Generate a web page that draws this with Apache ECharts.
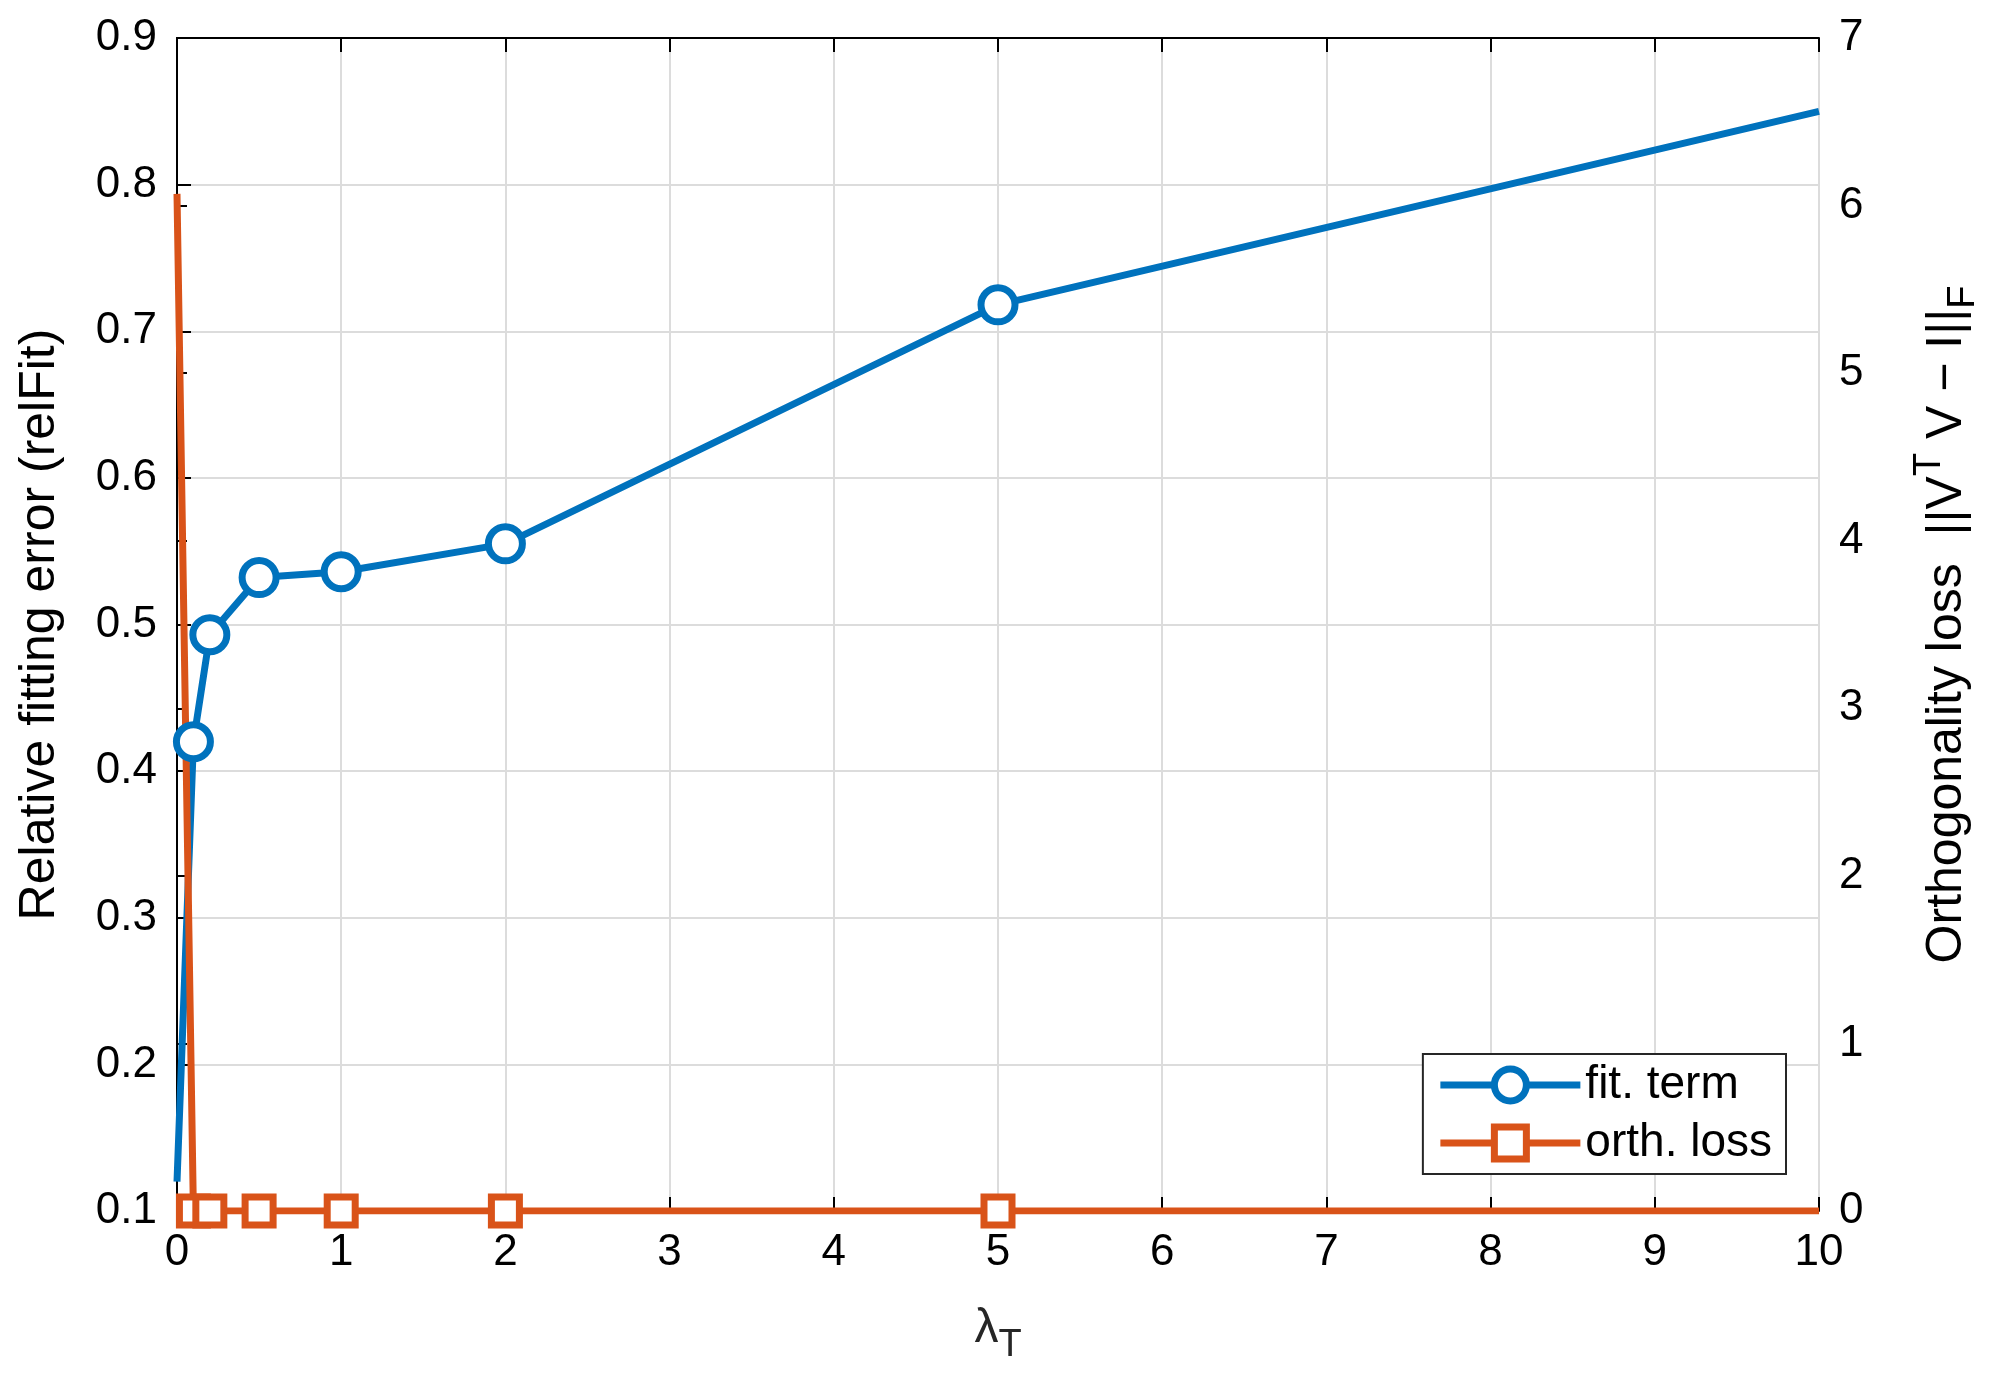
<!DOCTYPE html>
<html><head><meta charset="utf-8">
<script src="https://cdn.jsdelivr.net/npm/echarts@6/dist/echarts.min.js"></script>
<style>html,body{margin:0;background:#fff}#c{width:1991px;height:1374px}</style>
</head><body><div id="c"></div>
<script>
const lambdas = [0, 0.1, 0.2, 0.5, 1, 2, 5, 10];
const relFit = [0.12, 0.42, 0.493, 0.532, 0.536, 0.555, 0.718, 0.85];
const orthLoss = [6.07, 0, 0, 0, 0, 0, 0, 0];
const markerShown = [false, true, true, true, true, true, true, false];

const F = 'Liberation Sans, Arial, Helvetica, sans-serif';
const mk = (vals) => vals.map((v, i) => ({value: [lambdas[i], v], symbol: markerShown[i] ? undefined : 'none'}));
const tickStyle = {inside: true, length: 14, lineStyle: {color: '#000', width: 2}};
const chart = echarts.init(document.getElementById('c'));
chart.setOption({
  animation: false,
  textStyle: {fontFamily: F},
  grid: {left: 177, right: 172, top: 38, bottom: 163},
  xAxis: [{
    type: 'value', min: 0, max: 10, interval: 1,
    name: '{a|λ}{s|T}', nameLocation: 'middle', nameGap: 82,
    nameTextStyle: {rich: {a: {fontSize: 48, fontFamily: F, color: '#262626'}, s: {fontSize: 38, fontFamily: F, color: '#262626', padding: [34, 0, 0, 0]}}},
    axisLine: {onZero: false, lineStyle: {color: '#000', width: 2}},
    axisTick: tickStyle,
    axisLabel: {fontSize: 44, color: '#000', margin: 20, fontFamily: F},
    splitLine: {show: true, lineStyle: {color: '#dcdcdc', width: 2}}
  }, {
    type: 'value', min: 0, max: 10, interval: 1, position: 'top',
    axisLine: {show: true, onZero: false, lineStyle: {color: '#000', width: 2}},
    axisTick: tickStyle, axisLabel: {show: false}, splitLine: {show: false}
  }],
  yAxis: [{
    type: 'value', min: 0.1, max: 0.9, interval: 0.1,
    name: 'Relative fitting error (relFit)', nameLocation: 'middle', nameGap: 112, nameRotate: 90,
    nameTextStyle: {fontSize: 50, color: '#000', fontFamily: F},
    axisLine: {show: true, lineStyle: {color: '#000', width: 2}},
    axisTick: tickStyle,
    axisLabel: {fontSize: 44, color: '#000', margin: 20, fontFamily: F, formatter: v => v.toFixed(1)},
    splitLine: {show: true, lineStyle: {color: '#dcdcdc', width: 2}}
  }, {
    type: 'value', min: 0, max: 7, interval: 1, position: 'right',
    name: 'Orthogonality loss  ||V{p|T} V − I||{s|F}', nameLocation: 'middle', nameGap: 92, nameRotate: 90,
    nameTextStyle: {fontSize: 50, color: '#000', fontFamily: F,
      rich: {p: {fontSize: 38, fontFamily: F, color: '#000', padding: [0, 0, 34, 0]}, s: {fontSize: 38, fontFamily: F, color: '#000', padding: [34, 0, 0, 0]}}},
    axisLine: {show: true, lineStyle: {color: '#000', width: 2}},
    axisTick: {inside: false, length: 10, lineStyle: {color: '#000', width: 2}},
    axisLabel: {fontSize: 44, color: '#000', margin: 20, fontFamily: F},
    splitLine: {show: false}
  }],
  legend: {
    right: 205, bottom: 200, orient: 'vertical', backgroundColor: '#fff',
    borderColor: '#262626', borderWidth: 2, padding: [8, 14, 8, 14], itemGap: 12,
    itemWidth: 140, itemHeight: 40,
    textStyle: {fontSize: 46, color: '#000', fontFamily: F},
    data: [
      {name: 'fit. term', lineStyle: {color: '#0072BD', width: 7}, itemStyle: {color: '#fff', borderColor: '#0072BD', borderWidth: 7}},
      {name: 'orth. loss', lineStyle: {color: '#D95319', width: 7}, itemStyle: {color: '#fff', borderColor: '#D95319', borderWidth: 7}}
    ]
  },
  series: [{
    name: 'fit. term', type: 'line', xAxisIndex: 0, yAxisIndex: 0, data: mk(relFit),
    symbol: 'circle', symbolSize: 34, showAllSymbol: true,
    lineStyle: {color: '#0072BD', width: 7}, itemStyle: {color: '#fff', borderColor: '#0072BD', borderWidth: 7}, color: '#0072BD'
  }, {
    name: 'orth. loss', type: 'line', xAxisIndex: 0, yAxisIndex: 1, data: mk(orthLoss),
    symbol: 'rect', symbolSize: 28, showAllSymbol: true,
    lineStyle: {color: '#D95319', width: 7}, itemStyle: {color: '#fff', borderColor: '#D95319', borderWidth: 7}, color: '#D95319'
  }]
});
</script></body></html>
